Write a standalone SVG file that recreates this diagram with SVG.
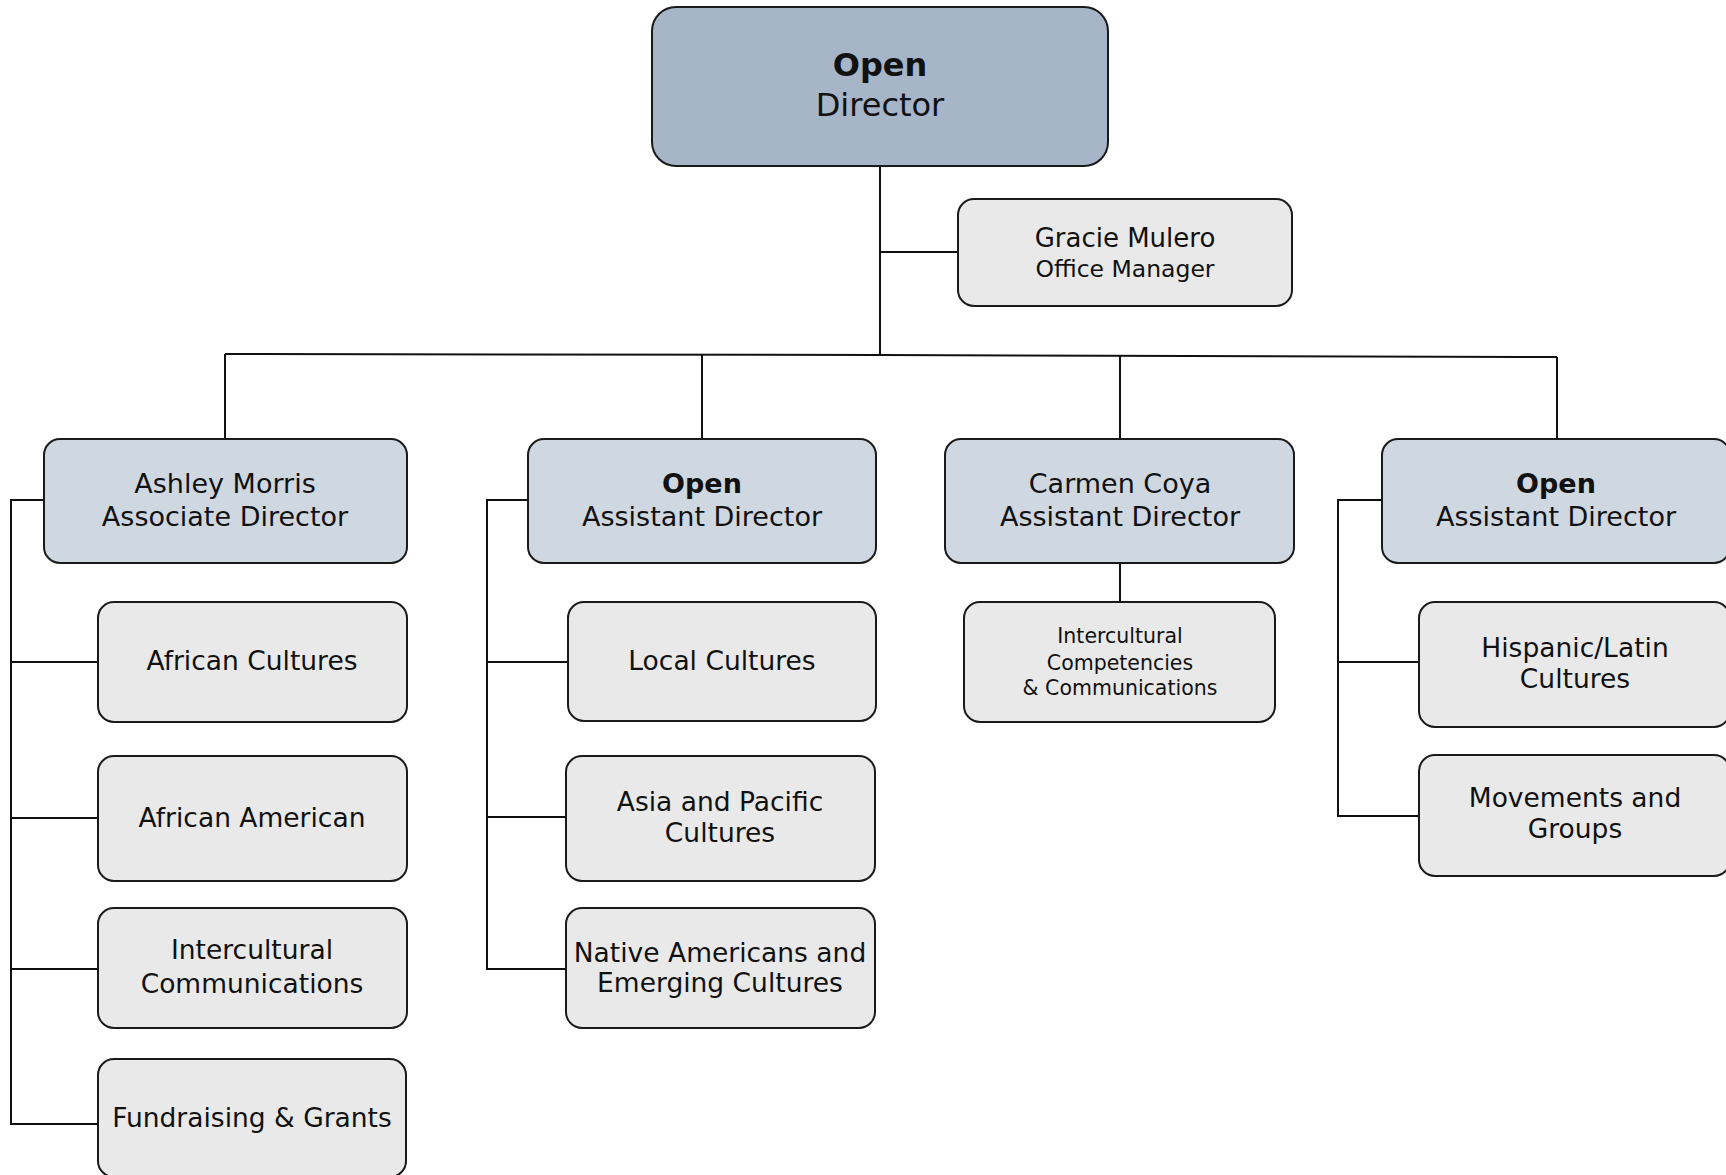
<svg xmlns="http://www.w3.org/2000/svg" width="1726" height="1175" viewBox="0 0 1726 1175">
<style>
  .box { stroke: #1a1a1a; stroke-width: 2; }
  .top { fill: #a6b5c8; }
  .mid { fill: #cfd7e1; }
  .leaf { fill: #e9e9e9; }
  .conn { stroke: #111; stroke-width: 2; fill: none; }
  text { font-family: "DejaVu Sans", Verdana, sans-serif; fill: #111; text-anchor: middle; }
  .t32 { font-size: 32px; }
  .t27 { font-size: 27px; }
  .t26 { font-size: 26.5px; }
  .t20 { font-size: 20.5px; }
  .b { font-weight: bold; }
</style>
<rect width="1726" height="1175" fill="#ffffff"/>
<g id="connectors">
  <line class="conn" x1="880" y1="166" x2="880" y2="355"/>
  <line class="conn" x1="880" y1="252" x2="958" y2="252"/>
  <polyline class="conn" points="225,354 880,355 1557,357"/>
  <line class="conn" x1="225" y1="354" x2="225" y2="439"/>
  <line class="conn" x1="702" y1="355" x2="702" y2="439"/>
  <line class="conn" x1="1120" y1="356" x2="1120" y2="439"/>
  <line class="conn" x1="1557" y1="357" x2="1557" y2="439"/>
  <polyline class="conn" points="44,500 11,500 11,1124 98,1124"/>
  <line class="conn" x1="11" y1="662" x2="98" y2="662"/>
  <line class="conn" x1="11" y1="818" x2="98" y2="818"/>
  <line class="conn" x1="11" y1="969" x2="98" y2="969"/>
  <polyline class="conn" points="528,500 487,500 487,969 566,969"/>
  <line class="conn" x1="487" y1="662" x2="568" y2="662"/>
  <line class="conn" x1="487" y1="817" x2="566" y2="817"/>
  <line class="conn" x1="1120" y1="562" x2="1120" y2="602"/>
  <polyline class="conn" points="1382,500 1338,500 1338,816 1419,816"/>
  <line class="conn" x1="1338" y1="662" x2="1419" y2="662"/>
</g>
<g id="director">
  <rect class="box top" x="652" y="7" width="456" height="159" rx="24"/>
  <text class="t32 b" x="880" y="76">Open</text>
  <text class="t32" x="880" y="116">Director</text>
</g>
<g id="office-manager">
  <rect class="box leaf" x="958" y="199" width="334" height="107" rx="16"/>
  <text style="font-size:26px" x="1125" y="247">Gracie Mulero</text>
  <text style="font-size:23.5px" x="1125" y="277">Office Manager</text>
</g>
<g id="ashley-morris">
  <rect class="box mid" x="44" y="439" width="363" height="124" rx="16"/>
  <text class="t27" x="225" y="493">Ashley Morris</text>
  <text class="t27" x="225" y="526">Associate Director</text>
</g>
<g id="open-ad-1">
  <rect class="box mid" x="528" y="439" width="348" height="124" rx="16"/>
  <text class="t27 b" x="702" y="493">Open</text>
  <text class="t27" x="702" y="526">Assistant Director</text>
</g>
<g id="carmen-coya">
  <rect class="box mid" x="945" y="439" width="349" height="124" rx="16"/>
  <text class="t27" x="1120" y="493">Carmen Coya</text>
  <text class="t27" x="1120" y="526">Assistant Director</text>
</g>
<g id="open-ad-2">
  <rect class="box mid" x="1382" y="439" width="348" height="124" rx="16"/>
  <text class="t27 b" x="1556" y="493">Open</text>
  <text class="t27" x="1556" y="526">Assistant Director</text>
</g>
<g id="african-cultures">
  <rect class="box leaf" x="98" y="602" width="309" height="120" rx="16"/>
  <text class="t26" x="252" y="670">African Cultures</text>
</g>
<g id="african-american">
  <rect class="box leaf" x="98" y="756" width="309" height="125" rx="16"/>
  <text class="t26" x="252" y="827">African American</text>
</g>
<g id="intercultural-communications">
  <rect class="box leaf" x="98" y="908" width="309" height="120" rx="16"/>
  <text class="t26" x="252" y="959">Intercultural</text>
  <text class="t26" x="252" y="993">Communications</text>
</g>
<g id="fundraising-grants">
  <rect class="box leaf" x="98" y="1059" width="308" height="118" rx="16"/>
  <text class="t26" x="252" y="1127">Fundraising &amp; Grants</text>
</g>
<g id="local-cultures">
  <rect class="box leaf" x="568" y="602" width="308" height="119" rx="16"/>
  <text class="t26" x="722" y="670">Local Cultures</text>
</g>
<g id="asia-pacific">
  <rect class="box leaf" x="566" y="756" width="309" height="125" rx="16"/>
  <text class="t26" x="720" y="811">Asia and Pacific</text>
  <text class="t26" x="720" y="842">Cultures</text>
</g>
<g id="native-americans">
  <rect class="box leaf" x="566" y="908" width="309" height="120" rx="16"/>
  <text class="t26" x="720" y="962">Native Americans and</text>
  <text class="t26" x="720" y="992">Emerging Cultures</text>
</g>
<g id="intercultural-competencies">
  <rect class="box leaf" x="964" y="602" width="311" height="120" rx="16"/>
  <text class="t20" x="1120" y="643">Intercultural</text>
  <text class="t20" x="1120" y="670">Competencies</text>
  <text class="t20" x="1120" y="695">&amp; Communications</text>
</g>
<g id="hispanic-latin">
  <rect class="box leaf" x="1419" y="602" width="311" height="125" rx="16"/>
  <text class="t26" x="1575" y="657">Hispanic/Latin</text>
  <text class="t26" x="1575" y="688">Cultures</text>
</g>
<g id="movements-groups">
  <rect class="box leaf" x="1419" y="755" width="311" height="121" rx="16"/>
  <text class="t26" x="1575" y="807">Movements and</text>
  <text class="t26" x="1575" y="838">Groups</text>
</g>
</svg>
